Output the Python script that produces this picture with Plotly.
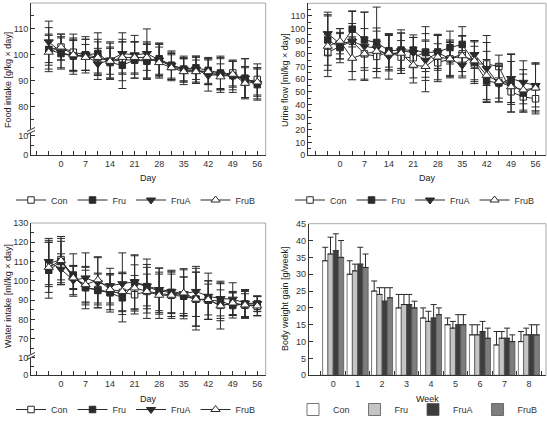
import plotly.graph_objects as go

W, H = 547, 424

# ---------------- data ----------------
days = [-3.5, 0, 3.5, 7, 10.5, 14, 17.5, 21, 24.5, 28, 31.5, 35, 38.5, 42, 45.5, 49, 52.5, 56]
day_ticks = [0, 7, 14, 21, 28, 35, 42, 49, 56]
day_minor = [-7, -3.5, 3.5, 10.5, 17.5, 24.5, 31.5, 38.5, 45.5, 52.5]
groups = ["Con", "Fru", "FruA", "FruB"]

food_con = [102, 103, 101, 100, 99, 97.5, 98, 98, 98, 98, 95.5, 94, 94, 93.5, 92.5, 93, 89.5, 90.5]
food_fru = [102, 100.5, 99.5, 100, 100.5, 97, 96, 98, 97.5, 98.5, 96, 94.5, 95, 94, 93, 92, 91, 88.5]
food_frua = [105, 101, 99.5, 100, 96.5, 98, 100.5, 100, 100.5, 98, 96, 94.5, 94.5, 92, 92.5, 91.5, 91, 89]
food_frub = [101, 103, 100, 99, 99, 97.5, 99, 99, 99, 97, 95, 93.5, 93.5, 93.5, 91.5, 92.5, 89, 89.5]
food_con_sd = [6, 5, 7, 6, 7, 7, 8, 7, 7, 6, 5, 4.5, 5, 5, 6, 5, 6, 6]
food_fru_sd = [8.5, 6, 6, 6, 8, 6, 9, 7, 7, 6, 5, 5, 4.5, 5, 6, 5.5, 7.5, 6]
food_frua_sd = [8, 6, 7, 7, 6, 7, 8, 7.5, 9.5, 6.5, 5.5, 4.5, 5, 6, 7, 6, 7.5, 6]
food_frub_sd = [6.5, 5, 6, 5, 6, 5, 6, 6, 5, 6, 5, 5, 4.5, 5, 5, 5, 6, 5.5]

urine_con = [81, 86, 90, 80, 78, 81.5, 77.5, 77, 81.5, 73, 76, 80, 72, 72, 70, 50, 46, 44.5]
urine_fru = [91, 85, 99.5, 91, 89, 82.5, 83, 83, 81, 81.5, 85, 87.5, 73.5, 58.5, 57, 57, 49, 54]
urine_frua = [96, 88, 90, 86, 84.5, 78, 82.5, 81, 75, 81, 76, 71, 79.5, 68.5, 56, 60.5, 57.5, 55]
urine_frub = [86, 90, 76.5, 80, 82, 80.5, 80.5, 71, 70, 77.5, 76, 78.5, 74.5, 63, 58, 54, 51.5, 53]
urine_con_sd = [14, 10, 14, 13, 12, 14, 13, 16, 20, 15, 15, 14, 14, 17, 9, 10, 12, 12]
urine_fru_sd = [20, 12, 14, 22, 28, 13, 16, 12, 15, 13, 13, 14, 17, 17, 15, 23, 15, 19]
urine_frua_sd = [17, 12, 24, 27, 16, 18, 14, 12, 16, 14, 13, 10, 11, 26, 14, 19, 17, 17]
urine_frub_sd = [24, 10, 17, 20, 16, 14, 16, 14, 20, 18, 14, 16, 15, 19, 13, 20, 16, 19]

water_con = [109, 111, 102, 96.5, 95.5, 94, 94, 92.8, 94.5, 93.5, 92.5, 92, 90.5, 90, 87.3, 88, 87.3, 86.8]
water_fru = [105.5, 110, 103, 96.5, 95, 93.8, 91.2, 99, 97, 94.7, 94, 92.5, 90.5, 90, 89.5, 87.2, 88, 88]
water_frua = [110, 106, 100.3, 101.5, 99, 97.5, 98.5, 99.5, 97.3, 95.5, 94.5, 93.3, 94.5, 92, 90.8, 90.5, 88.5, 88.2]
water_frub = [107, 110.5, 101.5, 98, 100.5, 95.5, 94.5, 96.3, 94.5, 92.5, 92.5, 93.7, 90.5, 90.3, 87, 88.5, 87.5, 87]
water_con_sd = [12, 12, 6, 9, 8, 9, 10, 10, 9, 10, 11, 10, 14, 10, 8, 6, 6, 5]
water_fru_sd = [14.5, 12, 11, 11, 9, 10, 12.5, 14, 10, 12, 11, 9.5, 14, 10, 9, 6.5, 7, 4]
water_frua_sd = [12, 8, 7.5, 13, 13, 9, 16, 14, 14, 11, 11, 13, 13, 12, 9, 8.5, 7, 4]
water_frub_sd = [13, 10, 6, 9, 12, 8, 10, 12, 14, 12, 12, 12, 16, 8, 12, 6, 7, 5]

weeks = [0, 1, 2, 3, 4, 5, 6, 7, 8]
bw_con = [34, 30, 25, 20, 17, 15, 12, 9, 10]
bw_fru = [36, 31, 24, 21, 16, 14, 12, 11, 12]
bw_frua = [37, 33, 22, 21, 17, 15, 13, 11, 12]
bw_frub = [35, 32, 23, 20, 18, 15, 11, 10, 12]
bw_con_err = [4, 4, 3, 4, 3, 2, 3, 4, 3]
bw_fru_err = [5, 2, 2, 3, 3, 2, 3, 2, 2]
bw_frua_err = [5, 5, 4, 3, 4, 3, 3, 3, 3]
bw_frub_err = [5, 4, 3, 2, 2, 3, 3, 2, 3]

# ---------------- styles ----------------
FONT = "Liberation Sans, Arial, sans-serif"
DARK = "#2b2b2b"
AX = "#333333"
FRAME = "#a8a8a8"
marker_styles = {
    "Con": dict(symbol="square", size=6.5, color="white", line=dict(color=DARK, width=1)),
    "Fru": dict(symbol="square", size=6.5, color=DARK, line=dict(color=DARK, width=1)),
    "FruA": dict(symbol="triangle-down", size=8, color=DARK, line=dict(color=DARK, width=1)),
    "FruB": dict(symbol="triangle-up", size=8, color="white", line=dict(color=DARK, width=1)),
}
bar_colors = {"Con": "#ffffff", "Fru": "#c4c4c4", "FruA": "#3d3d3d", "FruB": "#7d7d7d"}


def X(px):
    return px / W


def Y(py):
    return 1 - py / H


fig = go.Figure()


def add_lines(series, sds, xa, ya, legend):
    for g, vals, sd in zip(groups, series, sds):
        fig.add_trace(go.Scatter(
            x=days, y=vals, name=g, mode="lines+markers",
            xaxis=xa, yaxis=ya, legend=legend,
            line=dict(color=DARK, width=1),
            marker=marker_styles[g],
            error_y=dict(type="data", array=sd, visible=True, color=DARK, thickness=1, width=4),
        ))


add_lines([food_con, food_fru, food_frua, food_frub],
          [food_con_sd, food_fru_sd, food_frua_sd, food_frub_sd], "x", "y", "legend")
add_lines([urine_con, urine_fru, urine_frua, urine_frub],
          [urine_con_sd, urine_fru_sd, urine_frua_sd, urine_frub_sd], "x2", "y3", "legend2")
add_lines([water_con, water_fru, water_frua, water_frub],
          [water_con_sd, water_fru_sd, water_frua_sd, water_frub_sd], "x3", "y4", "legend3")

# empty traces so that the lower (broken) axis segments get drawn
for xa, ya in (("x", "y2"), ("x3", "y5")):
    fig.add_trace(go.Scatter(x=[], y=[], xaxis=xa, yaxis=ya, showlegend=False,
                             hoverinfo="skip", mode="markers"))

for g, vals, err in zip(groups, [bw_con, bw_fru, bw_frua, bw_frub],
                        [bw_con_err, bw_fru_err, bw_frua_err, bw_frub_err]):
    fig.add_trace(go.Bar(
        x=weeks, y=vals, name=g, xaxis="x4", yaxis="y6", legend="legend4",
        marker=dict(color=bar_colors[g], line=dict(color="#555555", width=0.8)),
        error_y=dict(type="data", symmetric=False, array=err, arrayminus=[0] * len(err),
                     color=DARK, thickness=1, width=3),
    ))

# ---------------- geometry ----------------
P1 = dict(x0=31, x1=265.7, top=3, bot=155, brk=131)
P2 = dict(x0=308, x1=546, top=3.3, bot=155)
P3 = dict(x0=31, x1=265.7, top=223, bot=375.3, brk=356)
P4 = dict(x0=308.7, x1=546, top=223.7, bot=375.3)

tickfont = dict(family=FONT, size=9, color="#333")
base_ax = dict(showline=True, linecolor=AX, linewidth=1, ticks="inside", ticklen=4,
               tickcolor=AX, tickwidth=1, showgrid=False, zeroline=False, tickfont=tickfont,
               automargin=False)


def day_axis(P, anchor, rng):
    return dict(base_ax, domain=[X(P["x0"]), X(P["x1"])], anchor=anchor, range=rng,
                tickmode="array", tickvals=day_ticks,
                minor=dict(tickmode="array", tickvals=day_minor, ticks="inside", ticklen=4,
                           tickcolor=AX, tickwidth=1))


fig.update_layout(
    template="none",
    width=W, height=H, autosize=False,
    margin=dict(l=0, r=0, t=0, b=0, pad=0),
    paper_bgcolor="white", plot_bgcolor="white",
    font=dict(family=FONT, size=9, color="#333"),
    barmode="group", bargap=0.14, bargroupgap=0,
    # panel 1
    xaxis=day_axis(P1, "y2", [-8.56, 58.4]),
    yaxis=dict(base_ax, domain=[Y(P1["brk"]), Y(P1["top"])], anchor="x", range=[70.6, 120],
               tickmode="array", tickvals=[80, 90, 100, 110, 120],
               minor=dict(tickmode="array", tickvals=[75, 85, 95, 105, 115], ticks="inside",
                          ticklen=3, tickcolor=AX)),
    yaxis2=dict(base_ax, domain=[Y(P1["bot"]), Y(P1["brk"])], anchor="x", range=[0, 12.3],
                tickmode="array", tickvals=[0, 10],
                minor=dict(tickmode="array", tickvals=[5], ticks="inside", ticklen=3, tickcolor=AX)),
    # panel 2
    xaxis2=day_axis(P2, "y3", [-9.16, 59.0]),
    yaxis3=dict(base_ax, domain=[Y(P2["bot"]), Y(P2["top"])], anchor="x2", range=[0, 120],
                tickmode="linear", tick0=0, dtick=10,
                minor=dict(tick0=5, dtick=10, ticks="inside", ticklen=3, tickcolor=AX)),
    # panel 3
    xaxis3=day_axis(P3, "y5", [-8.56, 58.4]),
    yaxis4=dict(base_ax, domain=[Y(P3["brk"]), Y(P3["top"])], anchor="x3", range=[61, 130],
                tickmode="array", tickvals=[70, 80, 90, 100, 110, 120, 130],
                minor=dict(tickmode="array", tickvals=[65, 75, 85, 95, 105, 115, 125],
                           ticks="inside", ticklen=3, tickcolor=AX)),
    yaxis5=dict(base_ax, domain=[Y(P3["bot"]), Y(P3["brk"])], anchor="x3", range=[0, 11],
                tickmode="array", tickvals=[0, 10],
                minor=dict(tickmode="array", tickvals=[5], ticks="inside", ticklen=3, tickcolor=AX)),
    # panel 4
    xaxis4=dict(base_ax, domain=[X(P4["x0"]), X(P4["x1"])], anchor="y6", range=[-1, 8.7],
                tickmode="array", tickvals=weeks, ticklen=0,
                minor=dict(tickmode="array", tickvals=[w - 0.5 for w in weeks] + [8.5],
                           ticks="inside", ticklen=4, tickcolor=AX)),
    yaxis6=dict(base_ax, domain=[Y(P4["bot"]), Y(P4["top"])], anchor="x4", range=[0, 45],
                tickmode="linear", tick0=0, dtick=5),
)

# legends (kept fully inside the figure so they do not push the margins)
leg_common = dict(orientation="h", xanchor="center", bgcolor="rgba(0,0,0,0)", borderwidth=0,
                  font=dict(family=FONT, size=9, color="#333"), itemwidth=30,
                  tracegroupgap=0, itemclick=False)
fig.update_layout(
    legend=dict(leg_common, x=X(136), y=Y(200), yanchor="middle"),
    legend2=dict(leg_common, x=X(415), y=Y(200), yanchor="middle"),
    legend3=dict(leg_common, x=X(136), y=0, yanchor="bottom"),
    legend4=dict(leg_common, x=X(418), y=0, yanchor="bottom"),
)

# titles (explicit anchors so that text is centred on the given point)
tfont = dict(family=FONT, size=9, color="#222")


def title(text, x, y, xref="paper", angle=0):
    return dict(text=text, xref=xref, yref="paper", x=x, y=y, xanchor="center",
                yanchor="middle", textangle=angle, showarrow=False, font=tfont)


fig.update_layout(annotations=[
    title("Day", 0.5, Y(178), "x domain"),
    title("Day", 0.5, Y(178), "x2 domain"),
    title("Day", 0.5, Y(399), "x3 domain"),
    title("Week", 0.5, Y(399), "x4 domain"),
    title("Food intake [g/kg × day]", X(8), Y(80), angle=-90),
    title("Urine flow [ml/kg × day]", X(285), Y(80), angle=-90),
    title("Water intake [ml/kg × day]", X(8), Y(296), angle=-90),
    title("Body weight gain [g/week]", X(285), Y(299), angle=-90),
])

# frame (top/right) and axis-break marks
shapes = []
for P in (P1, P2, P3, P4):
    shapes.append(dict(type="line", xref="paper", yref="paper", x0=X(P["x0"]), x1=X(P["x1"]),
                       y0=Y(P["top"]), y1=Y(P["top"]), line=dict(color=FRAME, width=1)))
    shapes.append(dict(type="line", xref="paper", yref="paper", x0=X(P["x1"]), x1=X(P["x1"]),
                       y0=Y(P["top"]), y1=Y(P["bot"]), line=dict(color=FRAME, width=1)))
for P in (P1, P3):
    b = P["brk"]
    x0 = P["x0"]
    shapes.append(dict(type="line", xref="paper", yref="paper", x0=X(x0), x1=X(x0),
                       y0=Y(b - 2), y1=Y(b + 2), line=dict(color="white", width=2)))
    for dy in (-1.5, 1.5):
        shapes.append(dict(type="line", xref="paper", yref="paper", x0=X(x0 - 4), x1=X(x0 + 4),
                           y0=Y(b + dy + 2), y1=Y(b + dy - 2), line=dict(color=AX, width=1)))
fig.update_layout(shapes=shapes)

fig.write_html("out.html", config={"displayModeBar": False},
               post_script="document.body.style.margin='0';document.body.style.overflow='hidden';")
